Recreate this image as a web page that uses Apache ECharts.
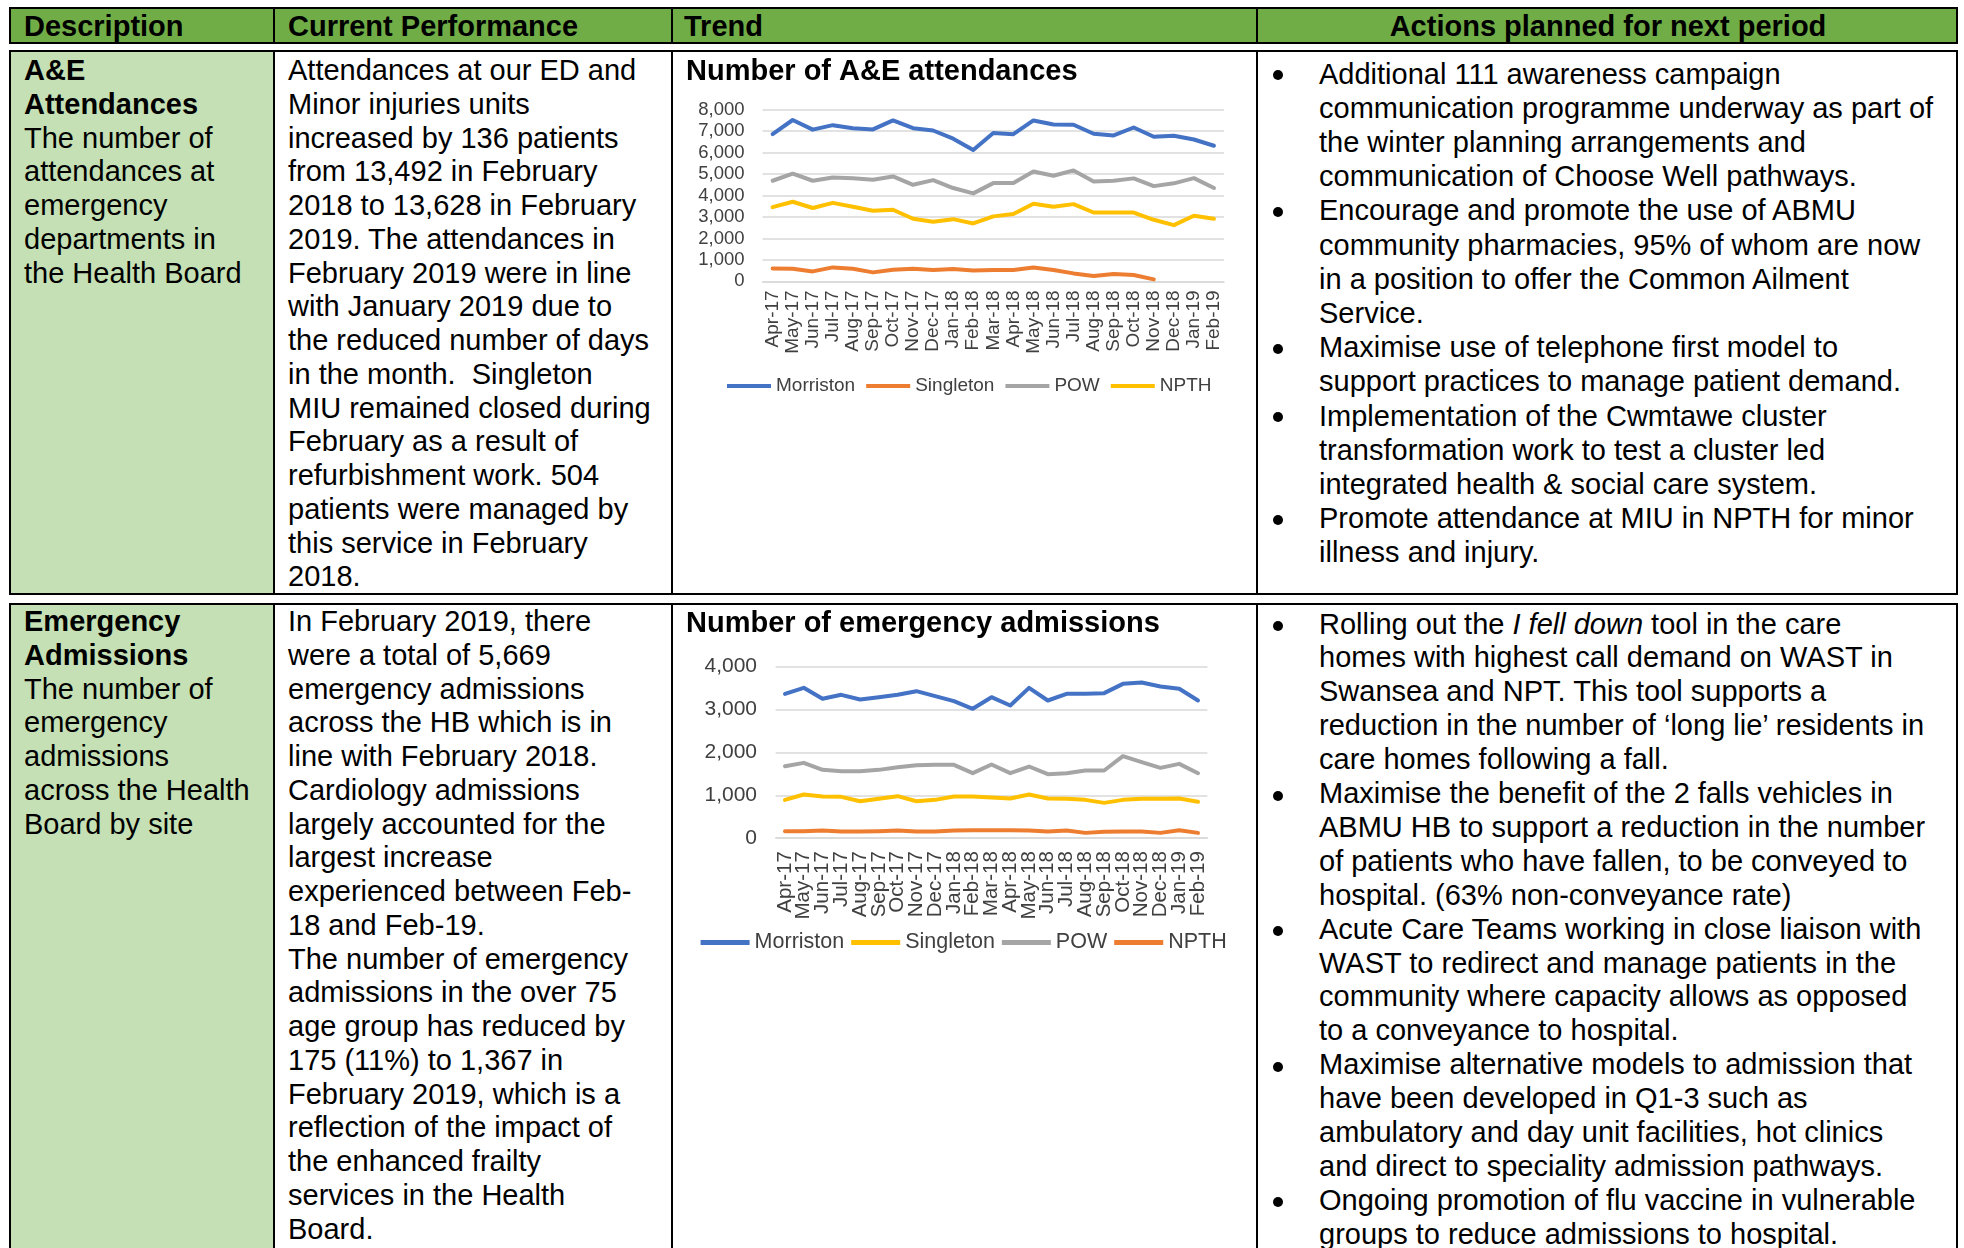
<!DOCTYPE html>
<html>
<head>
<meta charset="utf-8">
<script src="https://cdn.jsdelivr.net/npm/echarts@6/dist/echarts.min.js"></script>
<style>
  body { margin: 0; width: 1964px; height: 1248px; overflow: hidden; background: #fff;
         font-family: 'Liberation Sans', Arial, sans-serif; color: #000; position: relative; }
  .box { position: absolute; box-sizing: border-box; border: 2.3px solid #000; }
  .bg { position: absolute; }
  .vl { position: absolute; width: 2px; background: #000; }
  .txt { position: absolute; font-size: 29px; line-height: 33.75px; white-space: nowrap; }
  .li { position: relative; }
  .li::before { content: ''; position: absolute; left: -46px; top: 13.5px; width: 10px; height: 10px;
                border-radius: 50%; background: #000; }
  .chart { position: absolute; }
</style>
</head>
<body>

<!-- header row -->
<div class="box" style="left:9.3px;top:7.3px;width:1948.7px;height:36.4px;background:#70AD47"></div>
<div class="vl" style="left:273.3px;top:8px;height:35px"></div>
<div class="vl" style="left:670.7px;top:8px;height:35px"></div>
<div class="vl" style="left:1256px;top:8px;height:35px"></div>
<div class="txt" style="left:24px;top:9.5px;font-weight:bold">Description</div>
<div class="txt" style="left:288px;top:9.5px;font-weight:bold">Current Performance</div>
<div class="txt" style="left:684px;top:9.5px;font-weight:bold">Trend</div>
<div class="txt" style="left:1258px;width:700px;text-align:center;top:9.5px;font-weight:bold">Actions planned for next period</div>

<!-- row 1 -->
<div class="bg" style="left:11px;top:52px;width:263px;height:542px;background:#C5E0B4"></div>
<div class="box" style="left:9.3px;top:50px;width:1948.7px;height:545.3px"></div>
<div class="vl" style="left:273.3px;top:51px;height:543px"></div>
<div class="vl" style="left:670.7px;top:51px;height:543px"></div>
<div class="vl" style="left:1256px;top:51px;height:543px"></div>

<div class="txt" style="left:24px;top:54px"><b>A&amp;E<br>Attendances</b><br>The number of<br>attendances at<br>emergency<br>departments in<br>the Health Board</div>
<div class="txt" style="left:288px;top:54px">Attendances at our ED and<br>Minor injuries units<br>increased by 136 patients<br>from 13,492 in February<br>2018 to 13,628 in February<br>2019. The attendances in<br>February 2019 were in line<br>with January 2019 due to<br>the reduced number of days<br>in the month.&nbsp; Singleton<br>MIU remained closed during<br>February as a result of<br>refurbishment work. 504<br>patients were managed by<br>this service in February<br>2018.</div>
<div class="txt" style="left:1319px;top:56.5px;line-height:34.2px">
  <div class="li">Additional 111 awareness campaign<br>communication programme underway as part of<br>the winter planning arrangements and<br>communication of Choose Well pathways.</div>
  <div class="li">Encourage and promote the use of ABMU<br>community pharmacies, 95% of whom are now<br>in a position to offer the Common Ailment<br>Service.</div>
  <div class="li">Maximise use of telephone first model to<br>support practices to manage patient demand.</div>
  <div class="li">Implementation of the Cwmtawe cluster<br>transformation work to test a cluster led<br>integrated health &amp; social care system.</div>
  <div class="li">Promote attendance at MIU in NPTH for minor<br>illness and injury.</div>
</div>
<div id="c1" class="chart" style="left:673px;top:52.3px;width:583px;height:541px"></div>

<!-- row 2 -->
<div class="bg" style="left:11px;top:605px;width:263px;height:660px;background:#C5E0B4"></div>
<div class="box" style="left:9.3px;top:603.3px;width:1948.7px;height:700px"></div>
<div class="vl" style="left:273.3px;top:604px;height:660px"></div>
<div class="vl" style="left:670.7px;top:604px;height:660px"></div>
<div class="vl" style="left:1256px;top:604px;height:660px"></div>

<div class="txt" style="left:24px;top:605px"><b>Emergency<br>Admissions</b><br>The number of<br>emergency<br>admissions<br>across the Health<br>Board by site</div>
<div class="txt" style="left:288px;top:605px">In February 2019, there<br>were a total of 5,669<br>emergency admissions<br>across the HB which is in<br>line with February 2018.<br>Cardiology admissions<br>largely accounted for the<br>largest increase<br>experienced between Feb-<br>18 and Feb-19.<br>The number of emergency<br>admissions in the over 75<br>age group has reduced by<br>175 (11%) to 1,367 in<br>February 2019, which is a<br>reflection of the impact of<br>the enhanced frailty<br>services in the Health<br>Board.</div>
<div class="txt" style="left:1319px;top:607.5px;line-height:33.9px">
  <div class="li">Rolling out the <i>I fell down</i> tool in the care<br>homes with highest call demand on WAST in<br>Swansea and NPT. This tool supports a<br>reduction in the number of ‘long lie’ residents in<br>care homes following a fall.</div>
  <div class="li">Maximise the benefit of the 2 falls vehicles in<br>ABMU HB to support a reduction in the number<br>of patients who have fallen, to be conveyed to<br>hospital. (63% non-conveyance rate)</div>
  <div class="li">Acute Care Teams working in close liaison with<br>WAST to redirect and manage patients in the<br>community where capacity allows as opposed<br>to a conveyance to hospital.</div>
  <div class="li">Maximise alternative models to admission that<br>have been developed in Q1-3 such as<br>ambulatory and day unit facilities, hot clinics<br>and direct to speciality admission pathways.</div>
  <div class="li">Ongoing promotion of flu vaccine in vulnerable<br>groups to reduce admissions to hospital.</div>
</div>
<div id="c2" class="chart" style="left:673px;top:605.5px;width:583px;height:642px"></div>

<script>
// months shown on both trend charts
const months = ['Apr-17', 'May-17', 'Jun-17', 'Jul-17', 'Aug-17', 'Sep-17', 'Oct-17', 'Nov-17', 'Dec-17',
  'Jan-18', 'Feb-18', 'Mar-18', 'Apr-18', 'May-18', 'Jun-18', 'Jul-18', 'Aug-18', 'Sep-18', 'Oct-18',
  'Nov-18', 'Dec-18', 'Jan-19', 'Feb-19']

// A&E attendances by site
const aeMorriston = [6860, 7520, 7070, 7280, 7140, 7080, 7500, 7140, 7030, 6650, 6120, 6910, 6860, 7500, 7310, 7300, 6880, 6800, 7170, 6740, 6790, 6610, 6320]
const aeSingleton = [605, 590, 466, 652, 590, 420, 543, 590, 528, 575, 504, 528, 528, 652, 528, 373, 248, 342, 295, 93, null, null, null]
const aePow = [4690, 5020, 4690, 4840, 4810, 4740, 4890, 4500, 4720, 4350, 4100, 4580, 4580, 5120, 4920, 5170, 4660, 4690, 4800, 4440, 4570, 4810, 4350]
const aeNpth = [3460, 3710, 3420, 3660, 3480, 3290, 3340, 2920, 2780, 2900, 2700, 3030, 3140, 3620, 3480, 3600, 3210, 3210, 3210, 2870, 2620, 3060, 2920]

// emergency admissions by site
const eaMorriston = [3363, 3503, 3247, 3340, 3231, 3285, 3340, 3425, 3309, 3192, 3014, 3285, 3091, 3503, 3208, 3363, 3363, 3379, 3596, 3627, 3534, 3480, 3208]
const eaSingleton = [893, 1017, 971, 963, 862, 917, 979, 862, 893, 971, 971, 948, 924, 1017, 924, 917, 893, 823, 893, 917, 917, 924, 847]
const eaPow = [1678, 1755, 1592, 1561, 1561, 1592, 1654, 1701, 1709, 1709, 1515, 1717, 1515, 1670, 1491, 1515, 1577, 1577, 1911, 1771, 1639, 1732, 1515]
const eaNpth = [163, 163, 179, 155, 155, 163, 179, 155, 155, 179, 186, 186, 186, 179, 155, 179, 124, 148, 155, 155, 124, 186, 124]

const BLUE = '#4472C4', ORANGE = '#ED7D31', GREY = '#A5A5A5', GOLD = '#FFC000'
const FONT = "'Liberation Sans', Arial, sans-serif"
const LABEL = '#404040'

function thousands (v) {
  return String(v).replace(/\B(?=(\d{3})+(?!\d))/g, ',')
}

function line (name, data, color) {
  return {
    name: name, type: 'line', data: data, symbol: 'none', connectNulls: false,
    lineStyle: { width: 4, color: color, cap: 'round', join: 'round' },
    itemStyle: { color: color }
  }
}

function trendOption (p) {
  return {
    animation: false,
    textStyle: { fontFamily: FONT },
    title: {
      text: p.title, left: 13, top: p.titleTop, padding: 0,
      textStyle: { fontFamily: FONT, fontSize: 29, fontWeight: 'bold', color: '#000', lineHeight: 29 }
    },
    grid: { left: p.grid[0], top: p.grid[1], width: p.grid[2], height: p.grid[3], containLabel: false, outerBoundsMode: 'none' },
    legend: {
      left: p.legend[0], top: p.legend[1], padding: 0, icon: 'rect', orient: 'horizontal',
      itemWidth: p.legend[2], itemHeight: p.legend[3], itemGap: p.legend[4],
      textStyle: { fontFamily: FONT, fontSize: p.legendFont, color: LABEL },
      data: p.series.map(s => s.name)
    },
    xAxis: {
      type: 'category', data: months, boundaryGap: true,
      axisLine: { show: true, lineStyle: { color: '#D9D9D9', width: 1.5 } },
      axisTick: { show: false },
      axisLabel: { rotate: 90, interval: 0, fontSize: p.xFont, margin: p.xMargin, color: LABEL, fontFamily: FONT }
    },
    yAxis: {
      type: 'value', min: 0, max: p.yMax, interval: p.yStep,
      axisLine: { show: false }, axisTick: { show: false },
      axisLabel: { fontSize: p.yFont, margin: p.yMargin, color: LABEL, fontFamily: FONT, formatter: thousands },
      splitLine: { lineStyle: { color: '#D9D9D9', width: 1.5 } }
    },
    series: p.series
  }
}

var chart1 = echarts.init(document.getElementById('c1'))
chart1.setOption(trendOption({
  title: 'Number of A&E attendances', titleTop: 5.5,
  grid: [89.6, 57.7, 461.4, 171.7],
  legend: [54, 324.5, 44, 4, 11], legendFont: 19,
  xFont: 19, xMargin: 9, yFont: 18.5, yMargin: 18,
  yMax: 8000, yStep: 1000,
  series: [
    line('Morriston', aeMorriston, BLUE),
    line('Singleton', aeSingleton, ORANGE),
    line('POW', aePow, GREY),
    line('NPTH', aeNpth, GOLD)
  ]
}))

var chart2 = echarts.init(document.getElementById('c2'))
chart2.setOption(trendOption({
  title: 'Number of emergency admissions', titleTop: 3,
  grid: [102.6, 60.5, 431.8, 171.7],
  legend: [27.6, 325.4, 49, 5, 7], legendFont: 21.5,
  xFont: 20.5, xMargin: 13, yFont: 21, yMargin: 18.6,
  yMax: 4000, yStep: 1000,
  series: [
    line('Morriston', eaMorriston, BLUE),
    line('Singleton', eaSingleton, GOLD),
    line('POW', eaPow, GREY),
    line('NPTH', eaNpth, ORANGE)
  ]
}))
</script>
</body>
</html>
